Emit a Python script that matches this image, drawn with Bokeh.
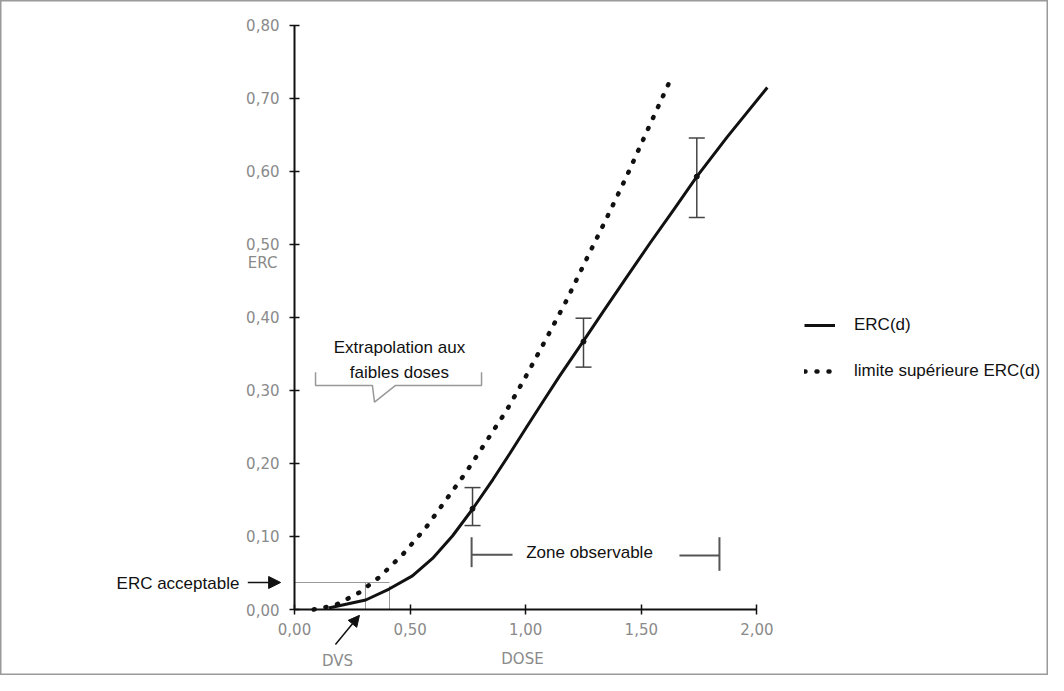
from bokeh.plotting import figure
from bokeh.models import (Range1d, LinearAxis, FixedTicker, Whisker, TeeHead, Arrow,
                          NormalHead, Legend, LegendItem, ColumnDataSource, Label)
from bokeh.embed import file_html
from bokeh.resources import INLINE

# ---- data ----
dose_erc = [0.148, 0.308, 0.409, 0.510, 0.597, 0.684, 0.771, 0.858, 0.930, 1.002, 1.075,
            1.147, 1.248, 1.335, 1.436, 1.538, 1.639, 1.740, 1.871, 2.045]
erc = [0.002, 0.013, 0.028, 0.046, 0.070, 0.101, 0.138, 0.178, 0.213, 0.249, 0.285,
       0.320, 0.367, 0.408, 0.455, 0.502, 0.547, 0.593, 0.647, 0.715]

dose_sup = [0.083, 0.177, 0.279, 0.366, 0.467, 0.568, 0.655, 0.742, 0.829, 0.916, 1.002,
            1.089, 1.176, 1.263, 1.350, 1.436, 1.523, 1.618]
erc_sup = [0.0, 0.006, 0.023, 0.044, 0.075, 0.112, 0.150, 0.188, 0.230, 0.272, 0.320,
           0.371, 0.423, 0.480, 0.536, 0.593, 0.654, 0.720]

err_dose = [0.77, 1.25, 1.74]
err_center = [0.138, 0.367, 0.593]
err_low = [0.115, 0.332, 0.537]
err_high = [0.167, 0.399, 0.646]

x_ticks = [0.0, 0.5, 1.0, 1.5, 2.0]
x_labels = ["0,00", "0,50", "1,00", "1,50", "2,00"]
y_ticks = [0.0, 0.1, 0.2, 0.3, 0.4, 0.5, 0.6, 0.7, 0.8]
y_labels = ["0,00", "0,10", "0,20", "0,30", "0,40", "0,50", "0,60", "0,70", "0,80"]

erc_acceptable = 0.037
dvs = 0.307
dose_at_acceptable = 0.411

GRAY_TXT = "#8a8a8a"
BLACK = "#111111"
SANS = "Liberation Sans"
AXF = "DejaVu Sans"
TXT = "17px"

p = figure(width=1048, height=675,
           x_range=Range1d(-1.2716, 3.2612), y_range=Range1d(-0.0904, 0.8342),
           x_axis_type=None, y_axis_type=None, min_border=0,
           output_backend="svg", toolbar_location=None)
p.outline_line_color = "#9a9a9a"
p.outline_line_width = 2
p.background_fill_color = "white"


def style_axis(ax):
    ax.axis_line_color = BLACK
    ax.axis_line_width = 2
    ax.major_tick_line_color = BLACK
    ax.major_tick_line_width = 1.5
    ax.major_tick_in = 5
    ax.major_tick_out = 5
    ax.minor_tick_line_color = None
    ax.major_label_text_color = GRAY_TXT
    ax.major_label_text_font = AXF
    ax.major_label_text_font_size = "15px"


xaxis = LinearAxis(fixed_location=0, ticker=FixedTicker(ticks=x_ticks),
                   major_label_overrides=dict(zip(x_ticks, x_labels)), bounds=(0, 2))
style_axis(xaxis)
xaxis.major_label_standoff = 8
p.add_layout(xaxis, "below")

yaxis = LinearAxis(fixed_location=0, ticker=FixedTicker(ticks=y_ticks),
                   major_label_overrides=dict(zip(y_ticks, y_labels)), bounds=(0, 0.8))
style_axis(yaxis)
yaxis.major_label_standoff = 10
p.add_layout(yaxis, "left")

# ---- guide lines for acceptable ERC / DVS ----
p.line([0, dose_at_acceptable], [erc_acceptable, erc_acceptable], line_color="#999999", line_width=1)
p.segment(x0=[dvs, dose_at_acceptable], y0=[0, 0], x1=[dvs, dose_at_acceptable],
          y1=[erc_acceptable, erc_acceptable - 0.005], line_color="#999999", line_width=1)

# ---- curves ----
solid = p.line(dose_erc, erc, line_color=BLACK, line_width=3, line_join="round")
dotted = p.line(dose_sup, erc_sup, line_color=BLACK, line_width=4.5, line_dash="1 11",
                line_cap="round", line_join="round")

# ---- error bars ----
src = ColumnDataSource(dict(x=err_dose, c=err_center, lo=err_low, hi=err_high))
p.add_layout(Whisker(base="x", lower="lo", upper="hi", source=src, dimension="height",
                     line_color="#444444", line_width=1.5,
                     lower_head=TeeHead(size=16, line_color="#444444", line_width=1.5),
                     upper_head=TeeHead(size=16, line_color="#444444", line_width=1.5)))
p.scatter("x", "c", source=src, size=5, color=BLACK)

# ---- brace: extrapolation ----
p.line([0.091, 0.091, 0.337, 0.346, 0.437, 0.809, 0.809],
       [0.325, 0.307, 0.307, 0.284, 0.307, 0.307, 0.325],
       line_color="#999999", line_width=1.5)
p.add_layout(Label(x=0.454, y=0.359, text="Extrapolation aux", text_align="center",
                   text_baseline="middle", text_font=SANS, text_font_size=TXT, text_color=BLACK))
p.add_layout(Label(x=0.454, y=0.325, text="faibles doses", text_align="center",
                   text_baseline="middle", text_font=SANS, text_font_size=TXT, text_color=BLACK))

# ---- zone observable ----
p.segment(x0=[0.766, 1.665, 0.766, 1.838], y0=[0.075, 0.074, 0.099, 0.099],
          x1=[0.943, 1.838, 0.766, 1.838], y1=[0.075, 0.074, 0.058, 0.053],
          line_color="#555555", line_width=2)
p.add_layout(Label(x=1.276, y=0.078, text="Zone observable", text_align="center",
                   text_baseline="middle", text_font=SANS, text_font_size=TXT, text_color=BLACK))

# ---- ERC acceptable / DVS ----
p.add_layout(Label(x=-0.504, y=0.036, text="ERC acceptable", text_align="center",
                   text_baseline="middle", text_font=SANS, text_font_size=TXT, text_color=BLACK))
p.add_layout(Arrow(x_start=-0.202, y_start=erc_acceptable, x_end=-0.06, y_end=erc_acceptable,
                   line_color=BLACK, line_width=1.5,
                   end=NormalHead(size=12, fill_color=BLACK, line_color=BLACK)))
p.add_layout(Arrow(x_start=0.177, y_start=-0.048, x_end=0.281, y_end=-0.008,
                   line_color=BLACK, line_width=1.5,
                   end=NormalHead(size=11, fill_color=BLACK, line_color=BLACK)))
p.add_layout(Label(x=0.186, y=-0.070, text="DVS", text_align="center", text_baseline="middle",
                   text_font=AXF, text_font_size="15px", text_color=GRAY_TXT))
p.add_layout(Label(x=0.986, y=-0.068, text="DOSE", text_align="center", text_baseline="middle",
                   text_font=AXF, text_font_size="15px", text_color=GRAY_TXT))
p.add_layout(Label(x=-0.138, y=0.474, text="ERC", text_align="center", text_baseline="middle",
                   text_font=AXF, text_font_size="15px", text_color=GRAY_TXT))

# ---- legend ----
legend = Legend(items=[LegendItem(label="ERC(d)", renderers=[solid]),
                       LegendItem(label="limite supérieure ERC(d)", renderers=[dotted])],
                location=(804, 294), glyph_width=31, glyph_height=20, label_height=20,
                spacing=26, label_standoff=19, padding=0, margin=0,
                border_line_color=None, background_fill_alpha=0,
                label_text_font=SANS, label_text_font_size=TXT,
                label_text_color=BLACK)
p.add_layout(legend)

open("out.html", "w").write(file_html(p, INLINE))
